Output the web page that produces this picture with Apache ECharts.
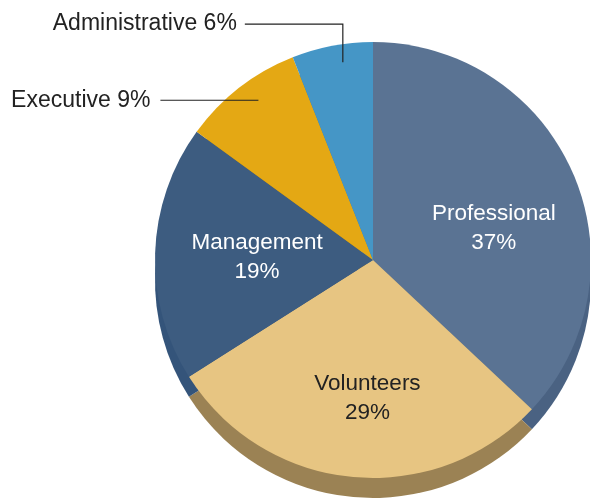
<!DOCTYPE html>
<html>
<head>
<meta charset="utf-8">
<script src="https://cdn.jsdelivr.net/npm/echarts@6/dist/echarts.min.js"></script>
<style>
	html,body{margin:0;padding:0;background:#fff;}
	#main{width:590px;height:500px;}
</style>
</head>
<body>
<div id="main"></div>
<script>
var categories = ["Professional", "Volunteers", "Management", "Executive", "Administrative"];
var shares = [37, 29, 19, 9, 6];
var topColors = ["#5a7393", "#e7c582", "#3d5c80", "#e4a814", "#4596c6"];
var sideColors = ["#4a6282", "#9b8254", "#34547a", "#b8870f", "#3a7ca6"];
var labelColors = ["#ffffff", "#222222", "#ffffff", "#222222", "#222222"];
var outsideLabels = ["Executive", "Administrative"];

(function(){
	var cx = 373, cy = 260, r = 218, depth = 20;
	var total = 0;
	for(var i = 0; i < shares.length; i++){ total += shares[i]; }

	// mid angle of each slice, clockwise from 12 o'clock
	function midAngle(idx){
		var before = 0;
		for(var j = 0; j < idx; j++){ before += shares[j]; }
		return (90 - 360 * (before + shares[idx] / 2) / total) * Math.PI / 180;
	}

	// small nudges so inside labels sit where the original put them
	var insideShift = {
		"Professional": [18, 13],
		"Volunteers": [5, 27],
		"Management": [-4, 1]
	};

	var topData = [], sideData = [], overData = [];
	for(var k = 0; k < categories.length; k++){
		var outside = outsideLabels.indexOf(categories[k]) !== -1;
		topData.push({
			name: categories[k],
			value: shares[k],
			itemStyle: {color: topColors[k]},
			label: {show: !outside, color: labelColors[k]}
		});
		sideData.push({name: categories[k], value: shares[k], itemStyle: {color: sideColors[k]}});
		overData.push({
			name: categories[k],
			value: shares[k],
			label: {show: outside},
			labelLine: {show: outside}
		});
	}

	var font = "Liberation Sans";
	var chart = echarts.init(document.getElementById("main"), null, {renderer: "canvas"});
	chart.setOption({
		animation: false,
		backgroundColor: "#ffffff",
		series: [
			{
				// side wall of the disc
				type: "pie",
				silent: true,
				z: 1,
				center: [cx, cy + depth],
				radius: r,
				startAngle: 90,
				clockwise: true,
				label: {show: false},
				labelLine: {show: false},
				emphasis: {disabled: true},
				data: sideData
			},
			{
				// top face + inside labels
				type: "pie",
				silent: true,
				z: 2,
				center: [cx, cy],
				radius: r,
				startAngle: 90,
				clockwise: true,
				emphasis: {disabled: true},
				label: {
					position: "inside",
					formatter: "{b}\n{d}%",
					fontFamily: font,
					fontSize: 22.5,
					lineHeight: 29,
					align: "center"
				},
				labelLine: {show: false},
				labelLayout: function(params){
					var s = insideShift[categories[params.dataIndex]] || [0, 0];
					return {dx: s[0], dy: s[1]};
				},
				data: topData
			},
			{
				// transparent copy on top, carries the outside labels and leader lines
				type: "pie",
				silent: true,
				z: 3,
				center: [cx, cy],
				radius: r,
				startAngle: 90,
				clockwise: true,
				emphasis: {disabled: true},
				itemStyle: {color: "rgba(0,0,0,0)"},
				label: {
					position: "outside",
					formatter: "{b} {d}%",
					fontFamily: font,
					fontSize: 23,
					color: "#222222"
				},
				labelLine: {
					smooth: false,
					lineStyle: {color: "#222222", width: 1.2}
				},
				labelLayout: function(params){
					var name = categories[params.dataIndex];
					var a = midAngle(params.dataIndex);
					var px = cx + 0.91 * r * Math.cos(a), py = cy - 0.91 * r * Math.sin(a);
					if(name === "Administrative"){
						var ax = px + 7, ay = py - 3;
						return {
							x: ax - 106, y: ay - 38, align: "right", verticalAlign: "middle",
							labelLinePoints: [[ax, ay], [ax, ay - 38], [ax - 98, ay - 38]]
						};
					}
					if(name === "Executive"){
						var ex = px + 7, ey = py - 3;
						return {
							x: ex - 108, y: ey, align: "right", verticalAlign: "middle",
							labelLinePoints: [[ex, ey], [ex - 49, ey], [ex - 98, ey]]
						};
					}
					return {};
				},
				data: overData
			}
		]
	});
})();
</script>
</body>
</html>
